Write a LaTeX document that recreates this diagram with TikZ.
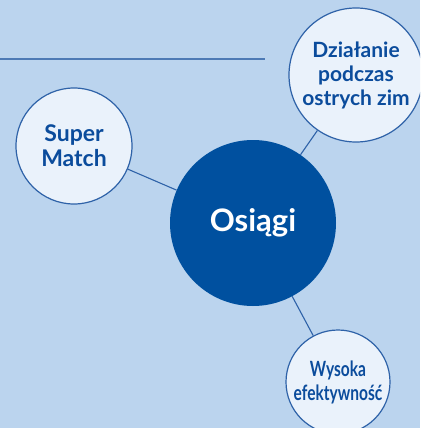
\documentclass[tikz,border=0pt]{standalone}
\usepackage{fontspec}
\setsansfont{Lato}
\newfontfamily\narrowsf[FakeStretch=0.74]{Lato}
\usetikzlibrary{backgrounds}

\definecolor{bgblue}{HTML}{BBD4EE}
\definecolor{hubblue}{HTML}{00509F}
\definecolor{rimblue}{HTML}{2E62A8}
\definecolor{leaffill}{HTML}{EAF2FB}
\definecolor{textblue}{HTML}{0B4C9C}

\begin{document}
\begin{tikzpicture}[
  x=1pt, y=-1pt,
  hub/.style={circle, fill=hubblue, text=white, minimum size=166pt, inner sep=0pt,
    font=\sffamily\bfseries\fontsize{31}{34}\selectfont},
  leaf/.style={circle, draw=rimblue, line width=1.2pt, fill=leaffill, text=textblue,
    align=center, inner sep=0pt},
  link/.style={draw=rimblue, line width=1.1pt},
  rule/.style={draw=rimblue!85, line width=1.1pt}
]
\useasboundingbox (0,0) rectangle (420,428);
\clip (0,0) rectangle (420,428);
\fill[bgblue] (0,0) rectangle (420,428);

% top rule
\coordinate (rulel) at (0,59);
\coordinate (ruler) at (265,59);
\draw[rule] (rulel) -- (ruler);

% hub and leaves
\node[hub] (osiagi) at (253,223) {Osiągi};
\node[leaf, minimum size=116pt, font=\sffamily\bfseries\fontsize{23}{25}\selectfont]
  (superm) at (74,146) {Super\\Match};
\node[leaf, minimum size=134pt, font=\sffamily\bfseries\fontsize{21}{24}\selectfont]
  (dzialanie) at (356,75) {Działanie\\podczas\\ostrych zim};
\node[leaf, minimum size=104pt, font=\narrowsf\bfseries\fontsize{21}{24}\selectfont]
  (wysoka) at (338,382) {Wysoka\\efektywność};

% links
\draw[link] (superm) -- (osiagi);
\draw[link] (dzialanie) -- (osiagi);
\draw[link] (wysoka) -- (osiagi);

\end{tikzpicture}
\end{document}
